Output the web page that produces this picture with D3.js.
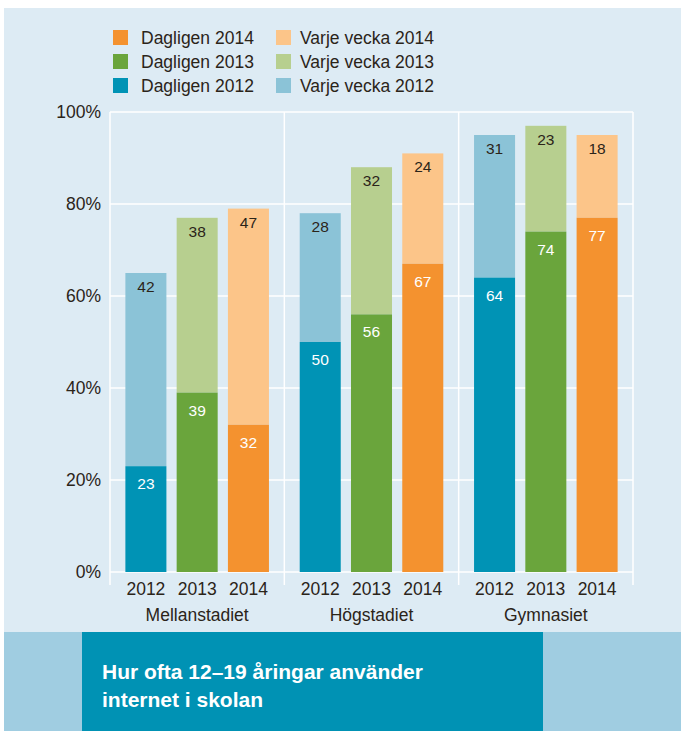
<html>
<head>
<meta charset="utf-8">
<script src="https://d3js.org/d3.v7.min.js"></script>
<style>
  body { margin: 0; background: #fff; }
  svg { display: block; font-family: "Liberation Sans", Arial, sans-serif; }
</style>
</head>
<body>
<div id="chart"></div>
<script>
// data (percent)
var groups = ["Mellanstadiet", "Högstadiet", "Gymnasiet"]
var years = ["2012", "2013", "2014"]
var daily = [
  [23, 39, 32],
  [50, 56, 67],
  [64, 74, 77]
]
var weekly = [
  [42, 38, 47],
  [28, 32, 24],
  [31, 23, 18]
]
var yTicks = [0, 20, 40, 60, 80, 100]
var legendItems = [
  {label: "Dagligen 2014", year: "2014", kind: "daily"},
  {label: "Varje vecka 2014", year: "2014", kind: "weekly"},
  {label: "Dagligen 2013", year: "2013", kind: "daily"},
  {label: "Varje vecka 2013", year: "2013", kind: "weekly"},
  {label: "Dagligen 2012", year: "2012", kind: "daily"},
  {label: "Varje vecka 2012", year: "2012", kind: "weekly"}
]
var title = ["Hur ofta 12\u201319 åringar använder", "internet i skolan"]

var colors = {
  daily: {"2012": "#0093b5", "2013": "#6aa53c", "2014": "#f4922f"},
  weekly: {"2012": "#8bc3d7", "2013": "#b7cf8f", "2014": "#fcc589"}
}
var textColor = "#2b2419"

var W = 681, H = 731
var svg = d3.select("#chart").append("svg").attr("width", W).attr("height", H)

// background panel
svg.append("rect").attr("x", 4).attr("y", 8).attr("width", W - 4).attr("height", H - 8).attr("fill", "#ddebf4")
// bottom band
svg.append("rect").attr("x", 4).attr("y", 632).attr("width", W - 4).attr("height", H - 632).attr("fill", "#a0cde1")
svg.append("rect").attr("x", 82).attr("y", 632).attr("width", 461).attr("height", H - 632).attr("fill", "#0092b4")
svg.append("text")
  .attr("x", 102).attr("y", 679)
  .attr("fill", "#fff").attr("font-weight", "bold").attr("font-size", 21)
  .selectAll("tspan").data(title).join("tspan")
    .attr("x", 102).attr("dy", (d, i) => i ? 28 : 0)
    .text(d => d)

// scales
var plotLeft = 110, plotRight = 633, plotTop = 112, plotBottom = 572
var y = d3.scaleLinear().domain([0, 100]).range([plotBottom, plotTop])
var x0 = d3.scaleBand().domain(groups).range([plotLeft, plotRight])
var x1 = d3.scaleBand().domain(years).range([0, x0.bandwidth()]).paddingInner(0.2).paddingOuter(0.3)

// grid
var grid = svg.append("g").attr("stroke", "#fff").attr("stroke-width", 1.5)
grid.selectAll("line.h").data(yTicks).join("line")
  .attr("x1", plotLeft).attr("x2", plotRight)
  .attr("y1", d => y(d)).attr("y2", d => y(d))
var vlines = groups.map(g => x0(g)).concat([plotRight])
grid.selectAll("line.v").data(vlines).join("line")
  .attr("x1", d => d).attr("x2", d => d)
  .attr("y1", plotTop).attr("y2", plotBottom + 13)

// y axis labels
var yAxis = svg.append("g").attr("transform", `translate(${plotLeft - 6},0)`)
  .call(d3.axisLeft(y).tickValues(yTicks).tickSize(0).tickFormat(d => d + "%"))
yAxis.select(".domain").remove()
yAxis.selectAll("text").attr("font-size", 17.5).attr("fill", textColor)
  .attr("font-family", "Liberation Sans, Arial, sans-serif")

// bars
var flat = []
groups.forEach((g, gi) => years.forEach((yr, yi) => {
  flat.push({group: g, year: yr, daily: daily[gi][yi], weekly: weekly[gi][yi]})
}))

var bars = svg.append("g").selectAll("g").data(flat).join("g")
  .attr("transform", d => `translate(${x0(d.group) + x1(d.year)},0)`)

bars.append("rect")
  .attr("y", d => y(d.daily + d.weekly))
  .attr("height", d => y(d.daily) - y(d.daily + d.weekly))
  .attr("width", x1.bandwidth())
  .attr("fill", d => colors.weekly[d.year])
bars.append("rect")
  .attr("y", d => y(d.daily))
  .attr("height", d => y(0) - y(d.daily))
  .attr("width", x1.bandwidth())
  .attr("fill", d => colors.daily[d.year])

bars.append("text")
  .attr("x", x1.bandwidth() / 2)
  .attr("y", d => y(d.daily + d.weekly) + 19)
  .attr("text-anchor", "middle").attr("font-size", 15.5).attr("fill", textColor)
  .text(d => d.weekly)
bars.append("text")
  .attr("x", x1.bandwidth() / 2)
  .attr("y", d => y(d.daily) + 23)
  .attr("text-anchor", "middle").attr("font-size", 15.5).attr("fill", "#fff")
  .text(d => d.daily)

// year + group labels
bars.append("text")
  .attr("x", x1.bandwidth() / 2).attr("y", 595)
  .attr("text-anchor", "middle").attr("font-size", 17.5).attr("fill", textColor)
  .text(d => d.year)
svg.append("g").selectAll("text").data(groups).join("text")
  .attr("x", d => x0(d) + x0.bandwidth() / 2).attr("y", 621)
  .attr("text-anchor", "middle").attr("font-size", 17.5).attr("fill", textColor)
  .text(d => d)

// legend
var leg = svg.append("g").selectAll("g").data(legendItems).join("g")
  .attr("transform", (d, i) => `translate(${i % 2 ? 276 : 113},${30 + Math.floor(i / 2) * 24})`)
leg.append("rect").attr("width", 15).attr("height", 15)
  .attr("fill", d => colors[d.kind][d.year])
leg.append("text").attr("x", (d, i) => i % 2 ? 24 : 28).attr("y", 14)
  .attr("font-size", 17.5).attr("fill", textColor)
  .text(d => d.label)
</script>
</body>
</html>
